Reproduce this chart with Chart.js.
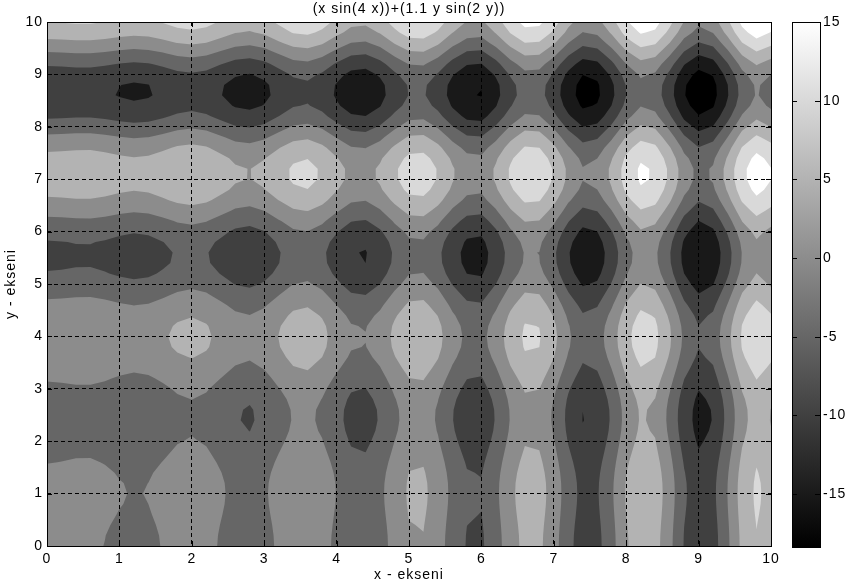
<!DOCTYPE html>
<html>
<head>
<meta charset="utf-8">
<title>contourf</title>
<script src="https://cdn.jsdelivr.net/npm/chart.js@4"></script>
<style>
  body { margin: 0; background: #fff; }
  #wrap { position: relative; width: 849px; height: 583px; overflow: hidden; }
  canvas { position: absolute; top: 0; }
  #mainCanvas { left: 0; }
  #barCanvas { left: 780px; }
</style>
</head>
<body>
<div id="wrap">
  <canvas id="mainCanvas" width="849" height="583"></canvas>
  <canvas id="barCanvas" width="69" height="583"></canvas>
</div>
<script>
// --- data ---
const xValues = [0,0.2,0.4,0.6,0.8,1,1.2,1.4,1.6,1.8,2,2.2,2.4,2.6,2.8,3,3.2,3.4,3.6,3.8,4,4.2,4.4,4.6,4.8,5,5.2,5.4,5.6,5.8,6,6.2,6.4,6.6,6.8,7,7.2,7.4,7.6,7.8,8,8.2,8.4,8.6,8.8,9,9.2,9.4,9.6,9.8,10];
const yValues = xValues.slice();
// height contribution of each column and of each row
const xTerm = [0,0.14,0.4,0.41,-0.05,-0.76,-1.2,-0.88,0.19,1.43,1.98,1.29,-0.42,-2.15,-2.74,-1.61,0.74,2.92,3.48,1.85,-1.15,-3.73,-4.17,-2,1.65,4.56,4.83,2.06,-2.22,-5.3,-5.7,-2.03,2.88,6.3,5.98,1.9,-3.61,-7.45,-6.46,-1.67,4.41,8.06,6.87,1.35,-5.27,-8.93,-7.2,-0.93,6.19,9.78,7.45];
const yTerm = [0,0.09,0.32,0.62,0.88,1,0.89,0.52,-0.1,-0.88,-1.66,-2.3,-2.63,-2.53,-1.94,-0.92,0.41,1.85,3.14,4.05,4.35,3.95,2.83,1.13,-0.92,-2.99,-4.74,-5.83,-6.03,-5.25,-3.54,-1.13,1.63,4.3,6.43,7.63,7.65,6.42,4.06,0.92,-2.53,-5.75,-8.2,-9.43,-9.18,-7.43,-4.4,-0.52,3.62,7.35,10.04];

const contourLevels = [-18.36,-15,-10,-5,0,5,10,15];
const bandGrays = [0,25,64,102,140,179,217,255];
const axisTicks = [0,1,2,3,4,5,6,7,8,9,10];
const barTicks = [-15,-10,-5,0,5,10,15];
const barMin = -18.36;
const barMax = 15;

const titleText = "(x sin(4 x))+(1.1 y sin(2 y))";
const xLabel = "x - ekseni";
const yLabel = "y - ekseni";
const fontFamily = "'Liberation Sans', Arial, sans-serif";

// the original text is wide-set, Chart.js has no option for this
const spacedText = { id: "spacedText", beforeDraw: c => { c.ctx.letterSpacing = "1px"; } };

// --- contour plugin: fills z >= level for each level, lowest first ---
function clipCell(corners, level) {
  const out = [];
  for (let i = 0; i < corners.length; i++) {
    const a = corners[i];
    const b = corners[(i + 1) % corners.length];
    if (a.z >= level) out.push(a);
    if ((a.z >= level) !== (b.z >= level)) {
      const t = (level - a.z) / (b.z - a.z);
      out.push({ x: a.x + t * (b.x - a.x), y: a.y + t * (b.y - a.y), z: level });
    }
  }
  return out;
}

const contourPlugin = {
  id: "contour",
  beforeDatasetsDraw(chart) {
    const { ctx, scales } = chart;
    const pts = chart.data.datasets[0].data;
    const n = xValues.length;
    const at = (i, j) => pts[j * n + i];
    contourLevels.forEach((level, k) => {
      ctx.beginPath();
      for (let j = 0; j < yValues.length - 1; j++) {
        for (let i = 0; i < n - 1; i++) {
          const poly = clipCell([at(i, j), at(i + 1, j), at(i + 1, j + 1), at(i, j + 1)], level);
          poly.forEach((p, m) => {
            const px = scales.x.getPixelForValue(p.x);
            const py = scales.y.getPixelForValue(p.y);
            if (m === 0) ctx.moveTo(px, py); else ctx.lineTo(px, py);
          });
          if (poly.length) ctx.closePath();
        }
      }
      const g = bandGrays[k];
      ctx.fillStyle = `rgb(${g},${g},${g})`;
      ctx.fill();
    });
  }
};

// box and inward tick marks, the library only does outward ones
function drawFrame(chart, xTicks, yTicks, len) {
  const { ctx, chartArea: a, scales } = chart;
  ctx.save();
  ctx.strokeStyle = "#000";
  ctx.lineWidth = 1;
  ctx.setLineDash([]);
  ctx.beginPath();
  xTicks.forEach(v => {
    const px = Math.round(scales.x.getPixelForValue(v)) + 0.5;
    ctx.moveTo(px, a.bottom); ctx.lineTo(px, a.bottom - len);
    ctx.moveTo(px, a.top); ctx.lineTo(px, a.top + len);
  });
  yTicks.forEach(v => {
    const py = Math.round(scales.y.getPixelForValue(v)) + 0.5;
    ctx.moveTo(a.left, py); ctx.lineTo(a.left + len, py);
    ctx.moveTo(a.right, py); ctx.lineTo(a.right - len, py);
  });
  ctx.stroke();
  ctx.strokeRect(a.left + 0.5, a.top + 0.5, a.right - a.left, a.bottom - a.top);
  ctx.restore();
}

const mainPoints = [];
yValues.forEach((y, j) => {
  xValues.forEach((x, i) => mainPoints.push({ x, y, z: xTerm[i] + yTerm[j] }));
});

const dashedGrid = { color: "#000", lineWidth: 1, z: 1, drawTicks: false };
const dashedBorder = { display: false, dash: [4, 3] };

new Chart(document.getElementById("mainCanvas"), {
  type: "scatter",
  data: { datasets: [{ label: "z", data: mainPoints, pointRadius: 0 }] },
  options: {
    responsive: false,
    animation: false,
    layout: { padding: { right: 78 } },
    plugins: {
      legend: { display: false },
      tooltip: { enabled: false }
    },
    scales: {
      // top axis only carries the title, so that it centres over the plot
      top: {
        type: "linear", position: "top", min: 0, max: 10,
        afterFit: s => { s.height = 22; },
        grid: { display: false },
        border: { display: false },
        ticks: { display: false },
        title: { display: true, text: titleText, color: "#000", padding: { top: 1, bottom: 0 }, font: { family: fontFamily, size: 14, lineHeight: 1.2 } }
      },
      x: {
        type: "linear", min: 0, max: 10,
        afterBuildTicks: s => { s.ticks = axisTicks.map(v => ({ value: v })); },
        afterFit: s => { s.height = 37; },
        grid: dashedGrid,
        border: dashedBorder,
        ticks: { color: "#000", padding: 4.5, maxRotation: 0, font: { family: fontFamily, size: 14 } },
        title: { display: true, text: xLabel, color: "#000", padding: { top: 0, bottom: -1 }, font: { family: fontFamily, size: 14 } }
      },
      y: {
        type: "linear", min: 0, max: 10,
        afterBuildTicks: s => { s.ticks = axisTicks.map(v => ({ value: v })); },
        afterFit: s => { s.width = 47; },
        grid: dashedGrid,
        border: dashedBorder,
        ticks: { color: "#000", padding: 4, font: { family: fontFamily, size: 14 } },
        title: { display: true, text: yLabel, color: "#000", padding: { top: 3, bottom: 0 }, font: { family: fontFamily, size: 14 } }
      }
    }
  },
  plugins: [spacedText, contourPlugin, { id: "frame", afterDraw: c => drawFrame(c, axisTicks, axisTicks, 5) }]
});

// --- colour bar ---
new Chart(document.getElementById("barCanvas"), {
  type: "bar",
  data: {
    labels: ["z"],
    datasets: [{
      data: [[barMin, barMax]],
      barPercentage: 1,
      categoryPercentage: 1,
      backgroundColor: ctx => {
        const area = ctx.chart.chartArea;
        if (!area) return "#888";
        const g = ctx.chart.ctx.createLinearGradient(0, area.bottom, 0, area.top);
        g.addColorStop(0, "#000");
        g.addColorStop(1, "#fff");
        return g;
      }
    }]
  },
  options: {
    responsive: false,
    animation: false,
    layout: { padding: { top: 22, bottom: 36, left: 12 } },
    plugins: { legend: { display: false }, tooltip: { enabled: false } },
    scales: {
      x: { display: false },
      y: {
        position: "right", min: barMin, max: barMax,
        afterBuildTicks: s => { s.ticks = barTicks.map(v => ({ value: v })); },
        afterFit: s => { s.width = 29; },
        grid: { display: false, drawTicks: false },
        border: { display: false },
        ticks: { color: "#000", padding: 3, font: { family: fontFamily, size: 14 } }
      }
    }
  },
  plugins: [spacedText, {
    id: "barFrame",
    afterDraw(c) {
      const { ctx, chartArea: a, scales } = c;
      ctx.save();
      ctx.strokeStyle = "#000";
      ctx.lineWidth = 1;
      ctx.beginPath();
      barTicks.forEach(v => {
        const py = Math.round(scales.y.getPixelForValue(v)) + 0.5;
        ctx.moveTo(a.left, py); ctx.lineTo(a.left + 5, py);
        ctx.moveTo(a.right, py); ctx.lineTo(a.right - 5, py);
      });
      ctx.stroke();
      ctx.strokeRect(a.left + 0.5, a.top + 0.5, a.right - a.left, a.bottom - a.top);
      ctx.restore();
    }
  }]
});
</script>
</body>
</html>
